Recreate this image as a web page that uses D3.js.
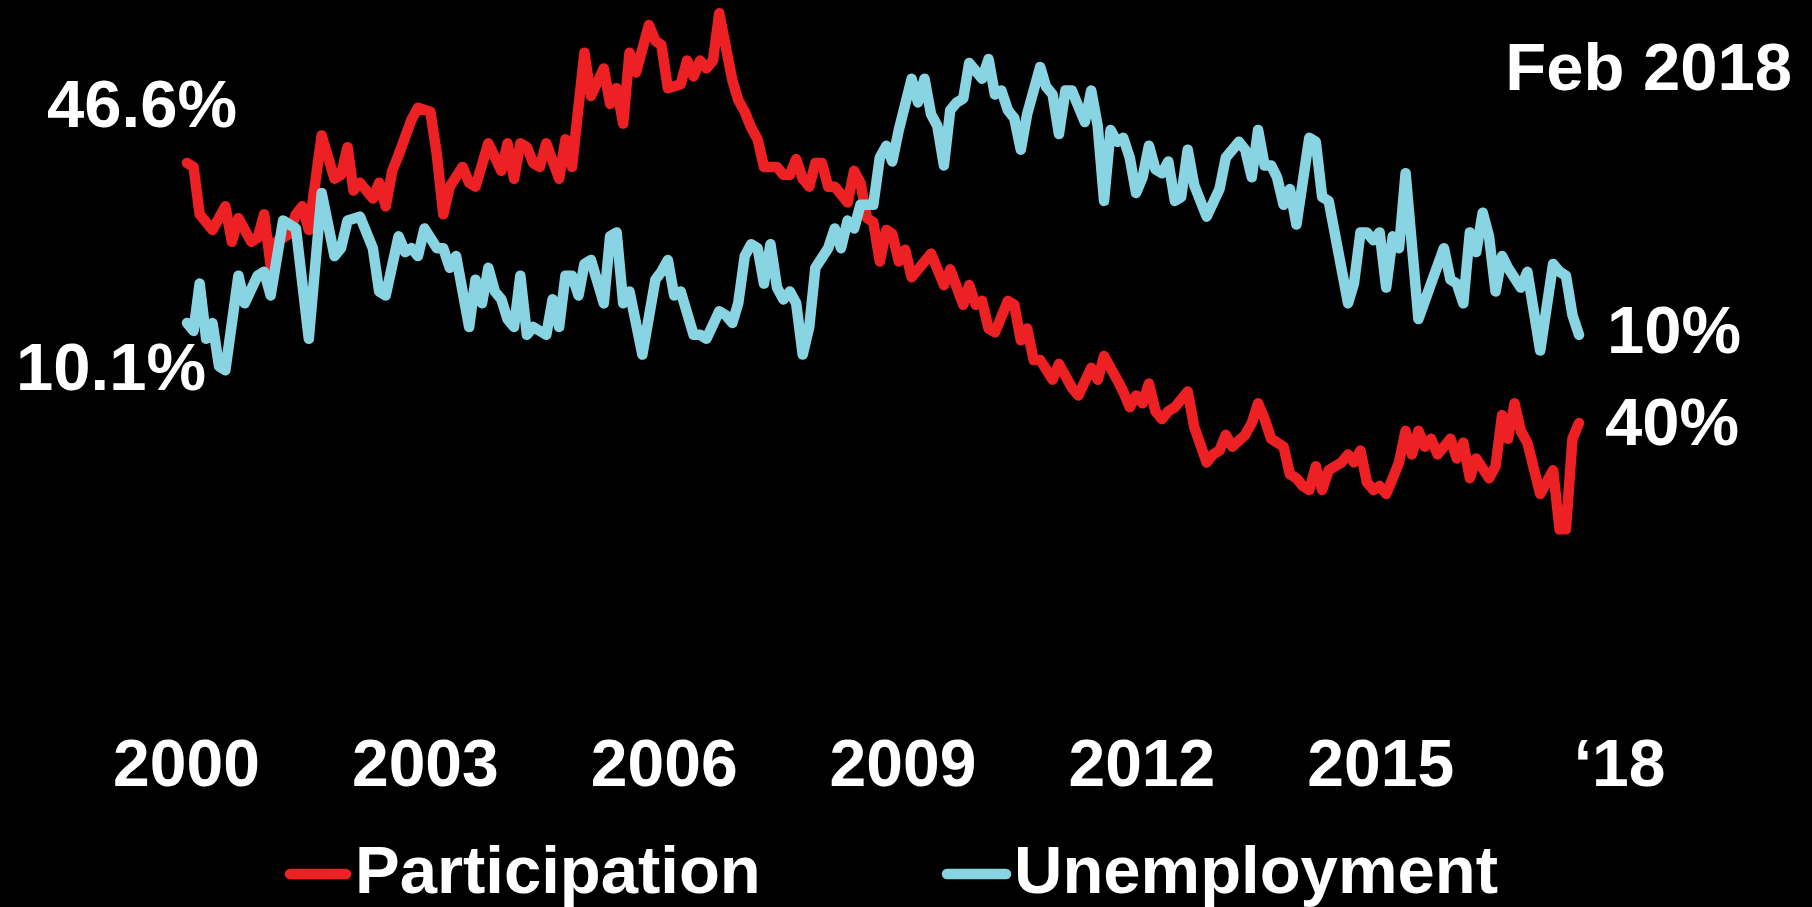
<!DOCTYPE html>
<html><head><meta charset="utf-8">
<script src="https://cdn.jsdelivr.net/npm/d3@7"></script>
<style>
html,body{margin:0;padding:0;background:#000;}
svg{display:block;}
text{font-family:"Liberation Sans",Arial,Helvetica,sans-serif;font-weight:bold;fill:#fff;}
</style>
</head><body>
<svg id="chart" width="1812" height="907"></svg>
<script>
// ---- data ----
const participationDates = [
"2000-01","2000-02","2000-03","2000-05","2000-07","2000-08","2000-09","2000-11","2000-12",
"2001-01","2001-02","2001-03","2001-05","2001-06","2001-07","2001-08","2001-10","2001-12",
"2002-01","2002-02","2002-03","2002-04","2002-06","2002-07","2002-08","2002-09","2002-10","2002-12",
"2003-01","2003-03","2003-04","2003-05","2003-06","2003-08","2003-09","2003-10","2003-12",
"2004-02","2004-03","2004-04","2004-05","2004-06","2004-07","2004-08","2004-09","2004-11","2004-12",
"2005-01","2005-03","2005-04","2005-06","2005-07","2005-08","2005-09","2005-10","2005-11",
"2006-01","2006-02","2006-03","2006-04","2006-06","2006-07","2006-08","2006-09","2006-10","2006-11","2006-12",
"2007-02","2007-03","2007-04","2007-05","2007-06","2007-07","2007-09","2007-10","2007-11","2007-12",
"2008-01","2008-02","2008-03","2008-04","2008-05","2008-06","2008-08","2008-09","2008-10","2008-11","2008-12",
"2009-01","2009-02","2009-03","2009-04","2009-05","2009-06","2009-09","2009-11","2009-12",
"2010-02","2010-03","2010-04","2010-05","2010-06","2010-07","2010-09","2010-10","2010-11","2010-12",
"2011-01","2011-02","2011-04","2011-05","2011-07","2011-08","2011-10","2011-11","2011-12",
"2012-02","2012-03","2012-04","2012-05","2012-06","2012-07","2012-08","2012-09","2012-10","2012-11",
"2013-01","2013-02","2013-04","2013-05","2013-06","2013-07","2013-08","2013-10","2013-11","2013-12",
"2014-01","2014-02","2014-04","2014-05","2014-06","2014-07","2014-08","2014-09","2014-10","2014-11","2014-12",
"2015-01","2015-02","2015-03","2015-04","2015-05","2015-06","2015-07","2015-08","2015-09","2015-10","2015-11","2015-12",
"2016-01","2016-02","2016-03","2016-04","2016-06","2016-07","2016-08","2016-09","2016-10","2016-12",
"2017-01","2017-02","2017-03","2017-04","2017-05","2017-06","2017-08","2017-10","2017-11","2017-12",
"2018-01","2018-02"];
const participationValues = [
46.6,46.5,45.3,44.9,45.5,44.6,45.2,44.6,44.7,
45.3,44.0,44.6,44.8,45.3,45.5,44.9,47.3,46.2,
46.3,47.0,45.9,46.1,45.7,46.1,45.5,46.4,46.8,47.7,
48.0,47.9,46.8,45.3,46.0,46.5,46.1,46.0,47.1,
46.4,47.1,46.2,47.1,47.0,46.6,46.5,47.1,46.2,47.2,
46.5,49.4,48.3,49.0,48.1,48.5,47.6,49.4,48.9,
50.1,49.7,49.6,48.5,48.6,49.2,48.8,49.2,49.0,49.2,50.4,
48.7,48.2,47.9,47.5,47.2,46.5,46.5,46.3,46.3,46.7,
46.2,46.0,46.6,46.6,46.0,46.0,45.6,46.4,46.1,45.2,45.1,
44.1,44.9,44.8,44.1,44.4,43.7,44.3,43.5,43.9,
43.0,43.5,43.0,43.1,42.4,42.3,43.1,43.0,42.1,42.4,
41.6,41.6,41.1,41.5,40.9,40.7,41.4,41.1,41.7,
41.1,40.8,40.4,40.7,40.5,41.0,40.3,40.1,40.3,40.4,
40.8,39.9,39.0,39.2,39.3,39.7,39.4,39.7,40.0,40.5,
40.1,39.6,39.4,38.7,38.6,38.4,38.3,38.9,38.3,38.8,38.9,
39.0,39.2,39.0,39.3,38.5,38.3,38.4,38.2,38.6,39.0,39.8,39.2,
39.8,39.4,39.6,39.2,39.6,39.1,39.5,38.6,39.1,38.6,
38.9,40.2,39.6,40.5,39.8,39.5,38.2,38.8,37.3,37.3,
39.6,40.0];

const unemploymentDates = [
"2000-01","2000-02","2000-03","2000-04","2000-05","2000-06","2000-07","2000-09","2000-10","2000-12",
"2001-01","2001-02","2001-04","2001-06","2001-08","2001-10","2001-12",
"2002-01","2002-02","2002-04","2002-06","2002-07","2002-08","2002-10","2002-11","2002-12",
"2003-01","2003-02","2003-04","2003-05","2003-06","2003-07","2003-09","2003-10","2003-11","2003-12",
"2004-01","2004-02","2004-03","2004-04","2004-05","2004-06","2004-07","2004-08","2004-09","2004-10","2004-11","2004-12",
"2005-01","2005-02","2005-03","2005-04","2005-06","2005-07","2005-08","2005-09","2005-10","2005-12",
"2006-02","2006-03","2006-04","2006-05","2006-06","2006-08","2006-09","2006-10","2006-12",
"2007-01","2007-02","2007-03","2007-04","2007-05","2007-06","2007-07","2007-08","2007-09","2007-10","2007-11","2007-12",
"2008-01","2008-02","2008-03","2008-05","2008-06","2008-07","2008-08","2008-09","2008-10","2008-12",
"2009-01","2009-02","2009-03","2009-04","2009-06","2009-07","2009-08","2009-09","2009-10","2009-11","2009-12",
"2010-01","2010-02","2010-03","2010-04","2010-05","2010-06","2010-07","2010-08","2010-09","2010-10","2010-11","2010-12",
"2011-02","2011-03","2011-04","2011-05","2011-06","2011-07","2011-09","2011-10","2011-11","2011-12",
"2012-01","2012-02","2012-03","2012-04","2012-05","2012-06","2012-07","2012-08","2012-09","2012-10","2012-11","2012-12",
"2013-01","2013-02","2013-04","2013-06","2013-07","2013-09","2013-10","2013-11","2013-12",
"2014-01","2014-02","2014-03","2014-04","2014-05","2014-06","2014-08","2014-09","2014-10","2014-11",
"2015-02","2015-03","2015-04","2015-05","2015-06","2015-07","2015-08","2015-09","2015-10","2015-11",
"2016-01","2016-03","2016-05","2016-06","2016-07","2016-08","2016-09","2016-10","2016-11","2016-12",
"2017-01","2017-02","2017-03","2017-05","2017-06","2017-08","2017-10","2017-11","2017-12",
"2018-01","2018-02"];
const unemploymentValues = [
10.1,9.9,11.1,9.7,10.1,9.0,8.9,11.3,10.6,11.3,
11.4,10.8,12.7,12.5,9.7,13.4,11.8,
12.0,12.7,12.8,12.0,10.9,10.8,12.3,11.9,12.0,
11.8,12.5,12.0,12.0,11.5,11.8,10.0,11.2,10.6,11.5,
10.9,10.7,10.2,10.0,11.3,9.8,10.0,9.9,9.8,10.7,10.0,11.3,
11.3,10.8,11.6,11.7,10.6,12.3,12.4,10.6,10.9,9.3,
11.2,11.4,11.7,10.8,10.9,9.8,9.8,9.7,10.4,
10.3,10.1,10.6,11.8,12.1,12.0,11.1,12.1,11.0,10.7,10.9,10.6,
9.3,10.0,11.5,12.0,12.5,12.0,12.7,12.5,13.1,13.1,
14.3,14.6,14.2,15.0,16.3,15.7,16.3,15.4,15.1,14.1,15.5,
15.7,15.8,16.7,16.5,16.3,16.8,15.9,16.0,15.5,15.3,14.5,15.4,
16.6,16.1,15.9,14.9,16.0,16.0,15.2,16.0,15.1,13.2,
15.0,14.7,14.8,14.3,13.4,13.8,14.6,14.0,13.9,14.2,13.2,13.3,
14.5,13.6,12.8,13.5,14.3,14.7,14.5,13.8,15.0,
14.1,14.1,13.8,13.1,13.5,12.6,14.8,14.7,13.3,13.2,
10.6,11.1,12.4,12.4,12.2,12.4,11.0,12.3,12.0,13.9,
10.2,11.1,12.0,11.2,11.1,10.6,12.4,11.9,12.9,12.3,
10.9,11.8,11.5,11.0,11.4,9.4,11.6,11.4,11.3,
10.3,9.8];

const seriesNames = ["Participation", "Unemployment"];
const tickYears = [2000, 2003, 2006, 2009, 2012, 2015, 2018];
const startLabels = ["46.6%", "10.1%"];
const endLabels = ["40%", "10%"];
const periodLabel = "Feb 2018";

// ---- drawing ----
const W = 1812, H = 907;
const RED = "#ED2024", BLUE = "#89D4E2";
const FONT = 67;
const STROKE = 10.5;
const svg = d3.select("#chart");
svg.append("rect").attr("width", W).attr("height", H).attr("fill", "#000");

const parse = d3.timeParse("%Y-%m");
const part = d3.zip(participationDates, participationValues).map(([d, v]) => ({date: parse(d), value: v}));
const unem = d3.zip(unemploymentDates, unemploymentValues).map(([d, v]) => ({date: parse(d), value: v}));

const x = d3.scaleTime().domain([parse("2000-01"), parse("2018-02")]).range([187, 1579]);
// both series use the same pixels-per-point, offset vertically
const yPart = d3.scaleLinear().domain([40, 46.6]).range([423, 163]);
const yUnem = d3.scaleLinear().domain([10.1, 16.7]).range([323, 63]);

const linePart = d3.line().x(d => x(d.date)).y(d => yPart(d.value));
const lineUnem = d3.line().x(d => x(d.date)).y(d => yUnem(d.value));

svg.append("path").datum(part).attr("d", linePart)
  .attr("fill", "none").attr("stroke", RED).attr("stroke-width", STROKE)
  .attr("stroke-linejoin", "round").attr("stroke-linecap", "round");
svg.append("path").datum(unem).attr("d", lineUnem)
  .attr("fill", "none").attr("stroke", BLUE).attr("stroke-width", STROKE)
  .attr("stroke-linejoin", "round").attr("stroke-linecap", "round");

// value labels
function label(txt, xx, yy, anchor) {
  svg.append("text").attr("x", xx).attr("y", yy).attr("text-anchor", anchor || "start")
    .attr("font-size", FONT).text(txt);
}
label(startLabels[0], 47, 127);
label(startLabels[1], 16, 390);
label(endLabels[0], 1605, 445);
label(endLabels[1], 1607, 353);
label(periodLabel, 1792, 90, "end");

// x axis (year labels)
const xYear = d3.scaleLinear().domain([2000, 2018]).range([186, 1619]);
const axis = d3.axisBottom(xYear).tickValues(tickYears).tickSize(0).tickPadding(0)
  .tickFormat(d => d === 2018 ? "\u201818" : String(d));
const gAxis = svg.append("g").attr("transform", "translate(0,786)").call(axis);
gAxis.select(".domain").remove();
gAxis.selectAll("text").attr("y", 0).attr("dy", 0).attr("font-size", 66)
  .attr("fill", "#fff").style("font-family", "'Liberation Sans',Arial,sans-serif").style("font-weight", "bold");

// legend
const legend = [
  {name: seriesNames[0], color: RED, x0: 290, x1: 346, tx: 355},
  {name: seriesNames[1], color: BLUE, x0: 947, x1: 1006, tx: 1014}
];
legend.forEach(l => {
  svg.append("line").attr("x1", l.x0).attr("x2", l.x1).attr("y1", 874).attr("y2", 874)
    .attr("stroke", l.color).attr("stroke-width", 10.5).attr("stroke-linecap", "round");
  svg.append("text").attr("x", l.tx).attr("y", 893).attr("font-size", 67).text(l.name);
});
</script>
</body></html>
